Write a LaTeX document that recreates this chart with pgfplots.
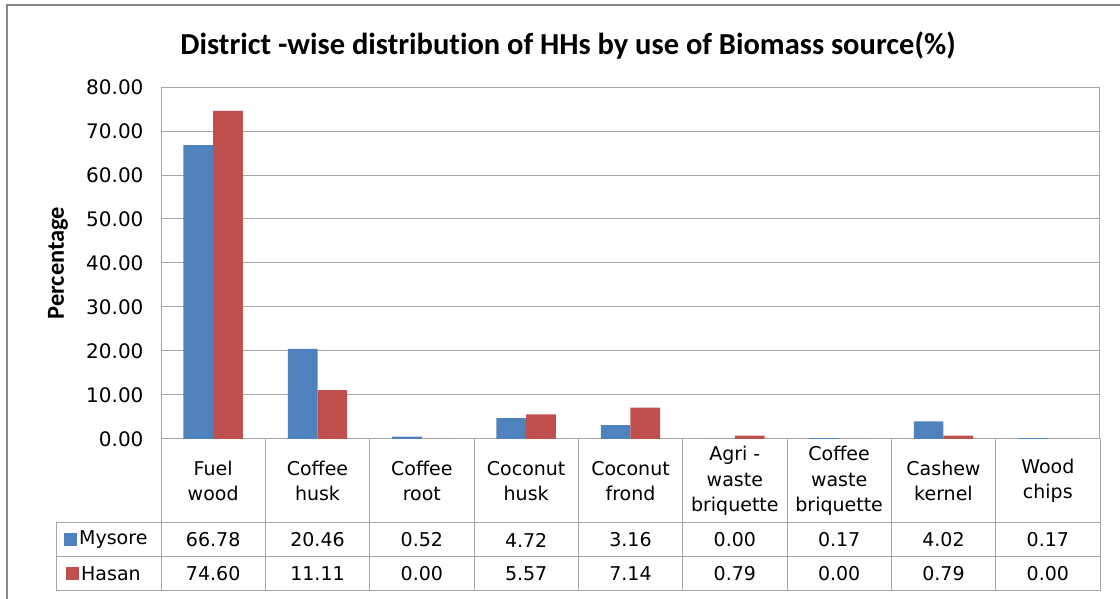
\documentclass[border=0pt]{standalone}
\usepackage{pgfplots}
\pgfplotsset{compat=1.18}
\usepackage{fontspec}
\setmainfont{DejaVu Sans}
\newfontfamily\calib[Ligatures=NoCommon]{Carlito}
\definecolor{myblue}{HTML}{4F81BD}
\definecolor{myred}{HTML}{C0504D}
\definecolor{gridc}{HTML}{A6A6A6}
\definecolor{framec}{HTML}{888888}
\begin{document}
\begin{tikzpicture}[x=1pt,y=1pt]
\useasboundingbox (0,0) rectangle (1120,599);
\draw[framec, line width=2.5pt] (7,-20) -- (7,594) -- (1140,594);
\node[font=\calib\bfseries\fontsize{30.5}{34}\selectfont] at (568,553) {District -wise distribution of HHs by use of Biomass source(\%)};
\node[rotate=90, font=\calib\bfseries\fontsize{24.4}{28}\selectfont] at (58,336) {Percentage};
\begin{axis}[
 at={(161pt,160pt)}, anchor=south west,
 scale only axis, width=939pt, height=352pt,
 xmin=0.5, xmax=9.5, ymin=0, ymax=80,
 ybar=0pt, bar width=29.7pt,
 ytick={0,10,...,80},
 ymajorgrids, grid style={gridc, line width=1pt},
 axis line style={gridc, line width=1pt},
 major tick length=0pt,
 xtick={1,...,9},
 xticklabels={{Fuel\\wood},{Coffee\\husk},{Coffee\\root},{Coconut\\husk},{Coconut\\frond},{Agri -\\waste\\briquette},{Coffee\\waste\\briquette},{Cashew\\kernel},{Wood\\chips}},
 xticklabel style={align=center, anchor=center, yshift=-42pt, font=\fontsize{19}{25.5}\selectfont},
 yticklabel={\pgfmathprintnumber[fixed,fixed zerofill,precision=2,assume math mode=true]{\tick}},
 yticklabel style={font=\fontsize{20}{24}\selectfont, xshift=-14pt},
]
\addplot[fill=myblue, draw=none] coordinates {(1,66.78) (2,20.46) (3,0.52) (4,4.72) (5,3.16) (6,0.00) (7,0.17) (8,4.02) (9,0.17)};
\addplot[fill=myred, draw=none] coordinates {(1,74.60) (2,11.11) (3,0.00) (4,5.57) (5,7.14) (6,0.79) (7,0.00) (8,0.79) (9,0.00)};
\end{axis}
% data table grid
\begin{scope}[gridc, line width=1pt]
\draw (56,76) -- (1100,76);
\draw (56,42) -- (1100,42);
\draw (56,8) -- (1100,8);
\draw (56,76) -- (56,8);
\foreach \k in {0,...,9} {\draw ({161+104.333*\k},160) -- ({161+104.333*\k},8);}
\end{scope}
\fill[myblue] (64,52.5) rectangle (77,65.5);
\fill[myred] (66,18.5) rectangle (79,31.5);
\begin{scope}[font=\fontsize{19}{23}\selectfont]
\node[anchor=west, inner sep=0pt] at (79,59) {Mysore};
\node[anchor=west, inner sep=0pt] at (81,25) {Hasan};
\foreach \v [count=\k] in {66.78,20.46,0.52,4.72,3.16,0.00,0.17,4.02,0.17}
  {\node at ({161+104.333*(\k-0.5)},59) {\v};}
\foreach \v [count=\k] in {74.60,11.11,0.00,5.57,7.14,0.79,0.00,0.79,0.00}
  {\node at ({161+104.333*(\k-0.5)},25) {\v};}
\end{scope}
\end{tikzpicture}
\end{document}
